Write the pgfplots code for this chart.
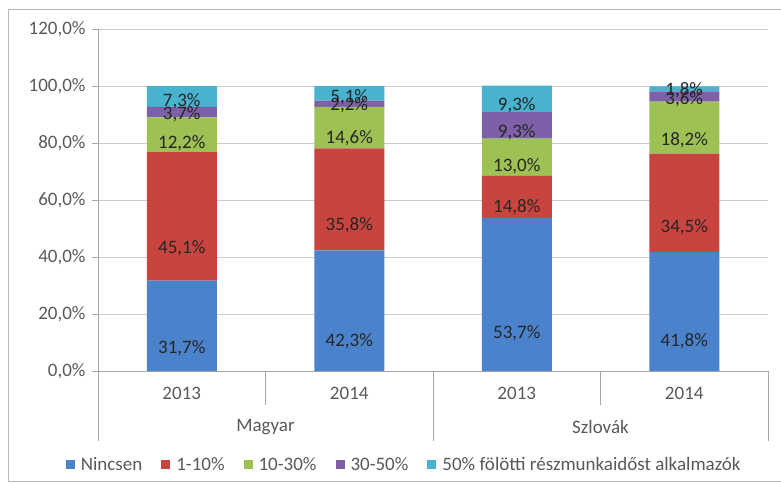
\documentclass[border=0pt]{standalone}
\usepackage{fontspec}
\setmainfont{Carlito}
\usepackage{pgfplots}
\usepackage{pgfplotstable}
\pgfplotsset{compat=1.18}
\definecolor{cA}{HTML}{4A82CC}
\definecolor{cB}{HTML}{C8443F}
\definecolor{cC}{HTML}{9DC153}
\definecolor{cD}{HTML}{7E60A8}
\definecolor{cE}{HTML}{47B3CF}
\definecolor{txt}{HTML}{595959}
\definecolor{lbl}{HTML}{262626}
\pgfplotstableread{
x a b c d e
0 31.7 45.1 12.2 3.7 7.3
1 42.3 35.8 14.6 2.2 5.1
2 53.7 14.8 13.0 9.3 9.3
3 41.8 34.5 18.2 3.6 1.8
}\data
\begin{document}
\fontsize{19}{23}\selectfont
\begin{tikzpicture}[x=1pt,y=1pt]
\useasboundingbox (0,0) rectangle (781,483);
\draw[gray!55, line width=1pt] (781,1.5) -- (8.5,1.5) -- (8.5,473.5) -- (781,473.5);
\begin{axis}[
  at={(98pt,112pt)}, anchor=south west,
  scale only axis, width=670pt, height=342pt,
  ybar stacked, bar width=70pt,
  xmin=-0.5, xmax=3.5, ymin=0, ymax=120,
  ytick={0,20,...,120},
  xtick={0,1,2,3}, xticklabels={2013,2014,2013,2014},
  /pgf/number format/assume math mode=true,
  yticklabel={\pgfmathprintnumber[fixed,fixed zerofill,precision=1,use comma]{\tick}\%},
  axis lines*=left,
  axis line style={draw=gray!70, line width=0.8pt},
  ymajorgrids, grid style={draw=gray!40, line width=0.8pt},
  ytick style={draw=gray!70, line width=0.8pt},
  tick align=outside, ytick pos=left,
  major tick length=6pt,
  xtick style={draw=none},
  ticklabel style={text=txt},
  xticklabel style={yshift=-4pt},
  clip=false,
  nodes near coords={\pgfmathprintnumber[fixed,fixed zerofill,precision=1,use comma]{\pgfplotspointmeta}\%},
  every node near coord/.append style={anchor=center, yshift={-0.7125pt*\rawv}, text=lbl},
  point meta=explicit,
  visualization depends on={rawy \as \rawv},
  legend style={at={(0.457,-0.275)}, anchor=center, draw=none, text=txt,
    legend columns=5, /tikz/every even column/.append style={column sep=17pt}},
  legend image code/.code={\fill[#1] (0pt,-4pt) rectangle (9pt,5pt); \path (13pt,0pt);},
]
\addplot[fill=cA, draw=none] table[x=x,y=a,meta=a] {\data};
\addplot[fill=cB, draw=none] table[x=x,y=b,meta=b] {\data};
\addplot[fill=cC, draw=none] table[x=x,y=c,meta=c] {\data};
\addplot[fill=cD, draw=none] table[x=x,y=d,meta=d] {\data};
\addplot[fill=cE, draw=none] table[x=x,y=e,meta=e] {\data};
\legend{Nincsen,1-10\%,10-30\%,30-50\%,50\% fölötti részmunkaidőst alkalmazók}
\draw[gray!70, line width=0.8pt] (axis cs:-0.5,0) -- ([yshift=-70pt]axis cs:-0.5,0);
\draw[gray!70, line width=0.8pt] (axis cs:1.5,0) -- ([yshift=-70pt]axis cs:1.5,0);
\draw[gray!70, line width=0.8pt] (axis cs:3.5,0) -- ([yshift=-70pt]axis cs:3.5,0);
\draw[gray!70, line width=0.8pt] (axis cs:0.5,0) -- ([yshift=-34pt]axis cs:0.5,0);
\draw[gray!70, line width=0.8pt] (axis cs:2.5,0) -- ([yshift=-34pt]axis cs:2.5,0);
\node[text=txt] at (axis cs:0.5,0) [yshift=-56pt] {Magyar};
\node[text=txt] at (axis cs:2.5,0) [yshift=-56pt] {Szlovák};
\end{axis}
\end{tikzpicture}
\end{document}
